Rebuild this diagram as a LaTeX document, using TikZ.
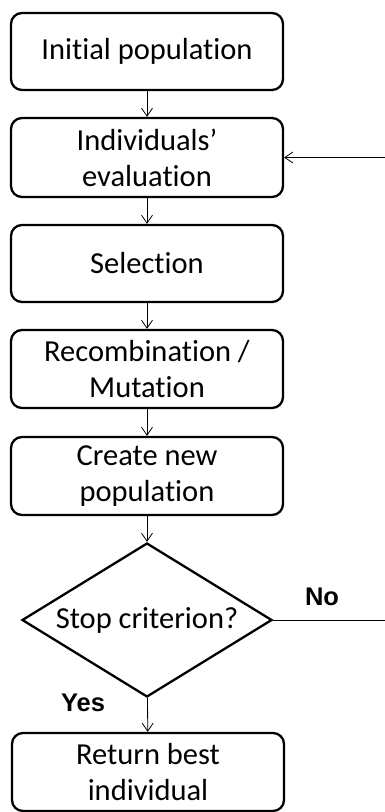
\documentclass[tikz,border=0pt]{standalone}
\usepackage{fontspec}
\setmainfont{Carlito}[Ligatures=NoCommon]
\newfontfamily\lblfont{Liberation Sans}
\usetikzlibrary{arrows.meta,shapes.geometric}
\begin{document}
\begin{tikzpicture}[x=1pt,y=-1pt,
  stepbox/.style={draw,line width=2.3pt,rounded corners=11pt,minimum width=272pt,minimum height=77pt,align=center,font=\fontsize{30.5}{36}\selectfont,inner sep=0pt},
  dec/.style={draw,line width=2.3pt,diamond,aspect=1.62,minimum width=250pt,minimum height=154pt,inner sep=0pt,font=\fontsize{30.5}{36}\selectfont},
  conn/.style={line width=0.8pt,-{Straight Barb[length=8pt,width=11pt]}},
  lbl/.style={font=\lblfont\bfseries\fontsize{25.5}{28}\selectfont}]
\useasboundingbox (0,0) rectangle (384,812);
\node[stepbox] (a) at (147,51.5) {Initial population};
\node[stepbox,minimum height=79pt] (b) at (147,157.5) {Individuals’\\evaluation};
\node[stepbox] (c) at (147,263.5) {Selection};
\node[stepbox,minimum height=78pt] (d) at (147,369) {Recombination /\\Mutation};
\node[stepbox,minimum height=78pt] (e) at (147,476) {Create new\\population};
\node[dec] (f) at (147,620) {Stop criterion?};
\node[stepbox,minimum height=78pt] (g) at (148,772) {Return best\\individual};
\coordinate (r1) at (390,620);
\coordinate (r2) at (390,157.5);
\draw[conn] (a) -- (b);
\draw[conn] (b) -- (c);
\draw[conn] (c) -- (d);
\draw[conn] (d) -- (e);
\draw[conn] (e) -- (f);
\draw[conn] (f) -- (g);
\draw[conn] (f.east) -- (r1) -- (r2) -- (b.east);
\node[lbl] (no) at (322,596.5) {No};
\node[lbl] (yes) at (83,702.5) {Yes};
\end{tikzpicture}
\end{document}
